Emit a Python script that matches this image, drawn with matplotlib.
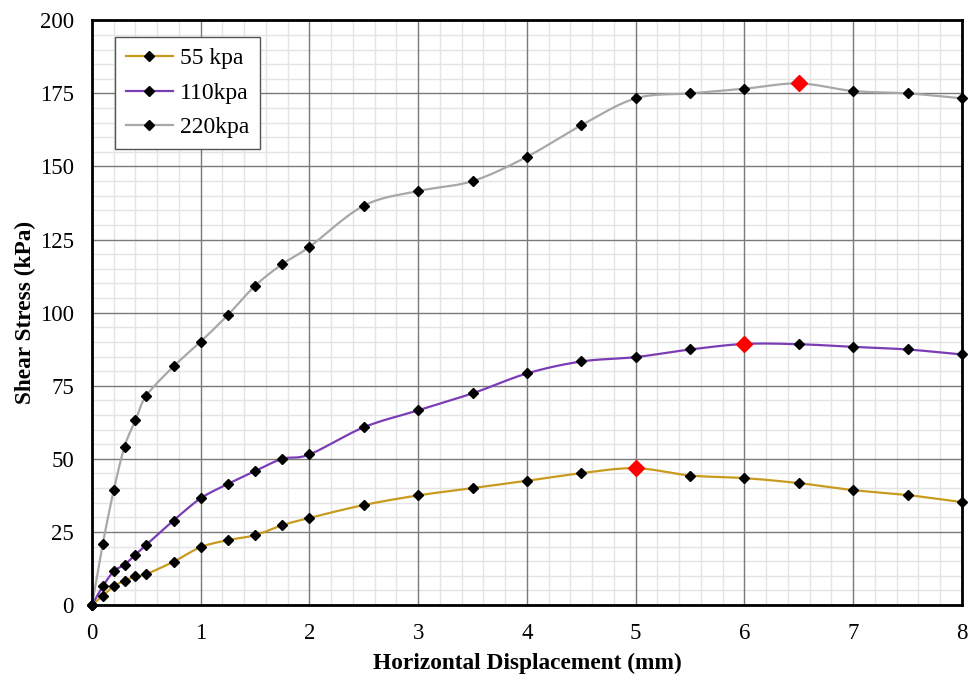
import numpy as np
import matplotlib
matplotlib.use("Agg")
import matplotlib.pyplot as plt
from matplotlib.ticker import MultipleLocator
from matplotlib.lines import Line2D

# displacement (mm) - same for all three tests
disp = [0, 0.1, 0.2, 0.3, 0.4, 0.5, 0.75, 1, 1.25, 1.5, 1.75, 2,
        2.5, 3, 3.5, 4, 4.5, 5, 5.5, 6, 6.5, 7, 7.5, 8]

# shear stress (kPa)
s55 = [0, 3.2, 6.4, 8.3, 9.8, 10.6, 14.8, 19.8, 22.2, 23.9, 27.3, 29.8,
       34.2, 37.5, 40.0, 42.5, 45.1, 46.8, 44.3, 43.4, 41.7, 39.3, 37.6, 35.2]
s110 = [0, 6.4, 11.5, 13.8, 17.2, 20.6, 28.9, 36.5, 41.4, 45.8, 50.0, 51.5,
        60.8, 66.6, 72.4, 79.2, 83.3, 84.8, 87.4, 89.3, 89.2, 88.3, 87.4, 85.7]
s220 = [0, 21.0, 39.2, 54.2, 63.2, 71.6, 81.6, 90.1, 99.2, 109.2, 116.6, 122.5,
        136.6, 141.6, 145.0, 153.3, 164.1, 173.3, 175.0, 176.6, 178.4, 175.8, 175.0, 173.3]

labels = ['55 kpa', '110kpa', '220kpa']
colors = ['#C89B1E', '#7B3DB5', '#A8A8A8']
peak_idx = [17, 19, 20]  # points shown in red


def smooth(x, y, n=20):
    # Catmull-Rom style curve through the points (like Excel "smoothed line")
    x = np.asarray(x, float)
    y = np.asarray(y, float)
    px = np.concatenate([[2 * x[0] - x[1]], x, [2 * x[-1] - x[-2]]])
    py = np.concatenate([[2 * y[0] - y[1]], y, [2 * y[-1] - y[-2]]])
    xs, ys = [], []
    t = np.linspace(0, 1, n, endpoint=False)
    for i in range(1, len(px) - 2):
        p0, p1, p2, p3 = px[i - 1], px[i], px[i + 1], px[i + 2]
        q0, q1, q2, q3 = py[i - 1], py[i], py[i + 1], py[i + 2]
        m1x, m2x = (p2 - p0) / 6, (p3 - p1) / 6
        m1y, m2y = (q2 - q0) / 6, (q3 - q1) / 6
        bx = ((1 - t) ** 3 * p1 + 3 * (1 - t) ** 2 * t * (p1 + m1x)
              + 3 * (1 - t) * t ** 2 * (p2 - m2x) + t ** 3 * p2)
        by = ((1 - t) ** 3 * q1 + 3 * (1 - t) ** 2 * t * (q1 + m1y)
              + 3 * (1 - t) * t ** 2 * (q2 - m2y) + t ** 3 * q2)
        xs.extend(bx)
        ys.extend(by)
    xs.append(x[-1])
    ys.append(y[-1])
    return np.array(xs), np.array(ys)


plt.rcParams['font.family'] = ['Liberation Serif', 'DejaVu Serif']

fig = plt.figure(figsize=(9.71, 6.76), dpi=100)
ax = fig.add_axes([0.0947, 0.105, 0.896, 0.865])

ax.set_xlim(0, 8)
ax.set_ylim(0, 200)
ax.xaxis.set_major_locator(MultipleLocator(1))
ax.xaxis.set_minor_locator(MultipleLocator(0.2))
ax.yaxis.set_major_locator(MultipleLocator(25))
ax.yaxis.set_minor_locator(MultipleLocator(5))

# grid drawn by hand so the dark major lines sit above all the light ones
xmin_l = ax.xaxis.get_minorticklocs()
ymin_l = ax.yaxis.get_minorticklocs()
xmaj_l = ax.xaxis.get_majorticklocs()
ymaj_l = ax.yaxis.get_majorticklocs()
ax.vlines(xmin_l, 0, 200, color='#E4E4E4', lw=1.0, zorder=0.5)
ax.hlines(ymin_l, 0, 8, color='#E4E4E4', lw=1.0, zorder=0.5)
ax.vlines(xmaj_l, 0, 200, color='#7A7A7A', lw=1.0, zorder=1)
ax.hlines(ymaj_l, 0, 8, color='#7A7A7A', lw=1.0, zorder=1)

handles = []
for ys, lab, c, pk in zip([s55, s110, s220], labels, colors, peak_idx):
    sx, sy = smooth(disp, ys)
    ax.plot(sx, sy, color=c, lw=1.6, zorder=3)
    mx = [v for i, v in enumerate(disp) if i != pk]
    my = [v for i, v in enumerate(ys) if i != pk]
    ax.plot(mx, my, ls='none', marker='D', ms=5, color='black', zorder=4,
            clip_on=False)
    ax.plot(disp[pk], ys[pk], ls='none', marker='D', ms=8.5, color='red',
            zorder=5)
    handles.append(Line2D([], [], color=c, lw=1.6, marker='D', ms=5,
                          mfc='black', mec='black'))

for s in ax.spines.values():
    s.set_color('black')
    s.set_linewidth(2)
    s.set_zorder(6)

ax.tick_params(which='both', length=0, labelsize=16.5, pad=13)
ax.set_xlabel('Horizontal Displacement (mm)', fontsize=16.8, fontweight='bold',
              labelpad=6)
ax.set_ylabel('Shear Stress (kPa)', fontsize=16.8, fontweight='bold', labelpad=3)

leg = ax.legend(handles, labels, loc='upper left',
                bbox_to_anchor=(0.0264, 0.971), borderaxespad=0,
                fontsize=17, frameon=True,
                fancybox=False, edgecolor='#555555', framealpha=1,
                handlelength=2.0, borderpad=0.45, labelspacing=0.55,
                handletextpad=0.3)
leg.get_frame().set_linewidth(1)
leg.set_zorder(7)

fig.savefig('out.png', dpi=100)
